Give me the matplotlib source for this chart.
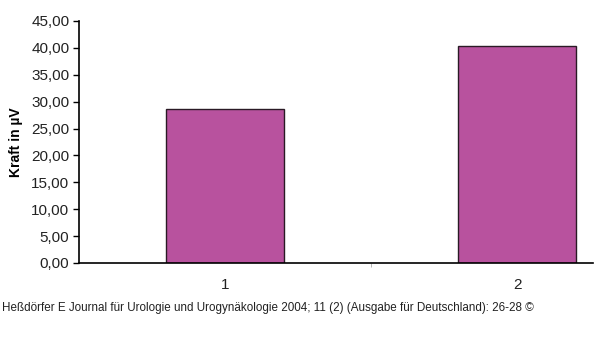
import matplotlib
matplotlib.use('Agg')
import matplotlib.pyplot as plt
import numpy as np

plt.rcParams['font.family'] = ['Liberation Sans', 'DejaVu Sans']

categories = ['1', '2']
values = [28.6, 40.4]
yticks = np.arange(0, 46, 5)

fig = plt.figure(figsize=(6, 3.57), dpi=100)
ax = fig.add_axes([79 / 600, 1 - 263 / 357, (593 - 79) / 600, (263 - 21) / 357])

x = np.arange(len(categories))
ax.bar(x, values, width=0.404, color='#B8529E', edgecolor='#2a1a25', linewidth=1.0)

ax.set_xlim(-0.5, 1.26)
ax.set_ylim(0, 45)
ax.set_yticks(yticks)
ax.set_yticklabels([('%.2f' % v).replace('.', ',') for v in yticks], fontsize=11, color='#222222')
ax.set_xticks([0.5])
ax.set_xticklabels([''])
ax.tick_params(axis='x', length=3, width=0.6, color='#aaaaaa')
ax.tick_params(axis='y', length=4, width=1, color='black', pad=3)

for xi, lab in zip(x, categories):
    ax.text(xi, -4.1, lab, ha='center', va='center', fontsize=11, color='#222222')

for s in ['top', 'right']:
    ax.spines[s].set_visible(False)
ax.spines['left'].set_linewidth(1.2)
ax.spines['bottom'].set_linewidth(1.2)

ax.set_ylabel('Kraft in µV', fontsize=10, fontweight='bold', labelpad=6)

fig.text(2 / 600, 1 - 308 / 357,
         'Heßdörfer E Journal für Urologie und Urogynäkologie 2004; 11 (2) (Ausgabe für Deutschland): 26-28 ©',
         ha='left', va='center', fontsize=8.4, color='#222222')

fig.savefig('out.png', dpi=100)
